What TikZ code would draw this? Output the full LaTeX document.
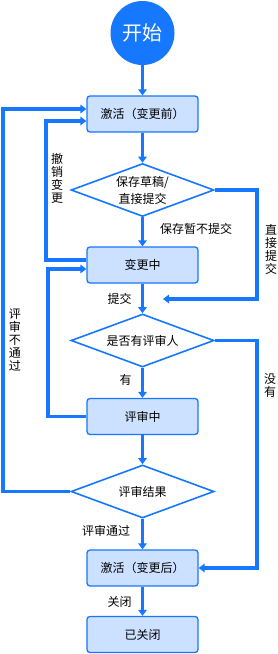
\documentclass[tikz,border=0pt]{standalone}
\usepackage{fontspec}
\setmainfont{Noto Sans CJK SC}
\usetikzlibrary{shapes.geometric,arrows.meta}
\definecolor{mainblue}{RGB}{22,119,255}
\definecolor{boxfill}{RGB}{204,224,255}
\begin{document}
\begin{tikzpicture}[x=1pt,y=-1pt,
 box/.style={draw=mainblue, fill=boxfill, line width=1.3pt, rounded corners=3pt, minimum width=111pt, minimum height=36pt, inner sep=0pt, font=\fontsize{12}{14}\selectfont},
 dec/.style={diamond, draw=mainblue, fill=white, line width=1.6pt, aspect=2.7, minimum width=143pt, minimum height=53pt, inner sep=0pt, align=center, font=\fontsize{12}{17}\selectfont},
 conn/.style={draw=mainblue, line width=3.2pt, -{Triangle[length=6pt,width=8.5pt]}},
 lab/.style={font=\fontsize{12}{13}\selectfont, inner sep=1pt},
 vlab/.style={lab, align=center}]
\useasboundingbox (0,0) rectangle (277,654);
\node[circle, fill=mainblue, minimum size=64pt, inner sep=0pt, text=white, font=\fontsize{20}{24}\selectfont] (start) at (142.5,33) {开始};
\node[box] (b1) at (142.5,114) {激活（变更前）};
\node[dec] (d1) at (142.5,190) {保存草稿/\\直接提交};
\node[box] (b2) at (142.5,265) {变更中};
\node[dec] (d2) at (142.5,340.5) {是否有评审人};
\node[box] (b3) at (142.5,416.5) {评审中};
\node[dec] (d3) at (142.5,491.5) {评审结果};
\node[box] (b4) at (142.5,568) {激活（变更后）};
\node[box] (b5) at (142.5,634.5) {已关闭};

\draw[conn] (start) -- (b1);
\draw[conn] (b1) -- (d1);
\draw[conn] (d1) -- (b2);
\draw[conn] (b2) -- (d2);
\draw[conn] (d2) -- (b3);
\draw[conn] (b3) -- (d3);
\draw[conn] (d3) -- (b4);
\draw[conn] (b4) -- (b5);

\coordinate (m1) at (163,299);
\draw[conn] (d1.east) -| (257,299) -- (m1);
\draw[conn] (d2.east) -| (257,568) -- (b4.east);
\draw[conn] (d3.west) -| (3,109) -- ([yshift=5pt]b1.west);
\draw[conn] ([yshift=5pt]b2.west) -| (46,121) -- ([yshift=-7pt]b1.west);
\draw[conn] (b3.west) -| (48,269) -- ([yshift=-4pt]b2.west);

\node[lab] (l1) at (196,229) {保存暂不提交};
\node[lab] (l2) at (119.5,299) {提交};
\node[lab] (l3) at (125.5,380) {有};
\node[lab] (l4) at (106,531) {评审通过};
\node[lab] (l5) at (119.5,602) {关闭};
\node[vlab] (v1) at (57,178) {撤\\销\\变\\更};
\node[vlab] (v2) at (271,249) {直\\接\\提\\交};
\node[vlab] (v3) at (270,386) {没\\有};
\node[vlab] (v4) at (15,340) {评\\审\\不\\通\\过};
\end{tikzpicture}
\end{document}
